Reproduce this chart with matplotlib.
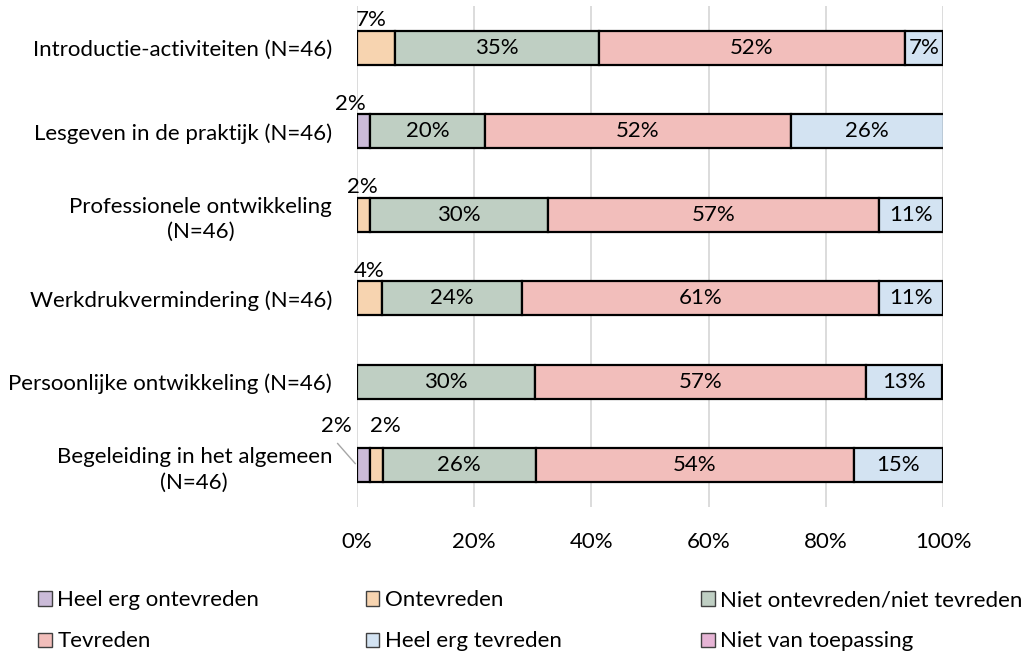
import matplotlib
matplotlib.use("Agg")
import matplotlib.pyplot as plt
from matplotlib.patches import Patch
import numpy as np

plt.rcParams['font.family'] = ['Lato', 'DejaVu Sans']

#categories top to bottom
categories = ['Introductie-activiteiten (N=46)',
              'Lesgeven in de praktijk (N=46)',
              'Professionele ontwikkeling\n(N=46)',
              'Werkdrukvermindering (N=46)',
              'Persoonlijke ontwikkeling (N=46)',
              'Begeleiding in het algemeen\n(N=46)']

series_names = ['Heel erg ontevreden', 'Ontevreden', 'Niet ontevreden/niet tevreden',
                'Tevreden', 'Heel erg tevreden', 'Niet van toepassing']

#percentages per series, one value per category
heel_erg_ontevreden = [0.0, 2.2, 0.0, 0.0, 0.0, 2.2]
ontevreden = [6.5, 0.0, 2.2, 4.3, 0.0, 2.2]
neutraal = [34.8, 19.6, 30.4, 23.9, 30.4, 26.1]
tevreden = [52.2, 52.2, 56.5, 60.9, 56.5, 54.3]
heel_erg_tevreden = [6.5, 26.1, 10.9, 10.9, 13.0, 15.2]
niet_van_toepassing = [0.0, 0.0, 0.0, 0.0, 0.0, 0.0]

colors = ['#CBBBD8', '#F7D4B0', '#BFCFC3', '#F2BEBB', '#D3E3F2', '#E6B4D5']

data = [heel_erg_ontevreden, ontevreden, neutraal, tevreden, heel_erg_tevreden, niet_van_toepassing]

#offsets for the small labels that sit above the bar (x in %, y in rows)
small_label_pos = {(0, 1): (-0.9, -0.33), (1, 0): (-2.3, -0.33), (2, 1): (-0.2, -0.33),
                   (3, 1): (0.0, -0.33), (5, 0): (-4.7, -0.47), (5, 1): (1.6, -0.47)}

fig = plt.figure(figsize=(10.36, 6.53), dpi=100)
ax = fig.add_axes([0.3446, 0.2236, 0.5656, 0.7672])

y = np.arange(len(categories))
left = np.zeros(len(categories))
fs = 16
for s, vals in enumerate(data):
    vals = np.array(vals)
    for i in range(len(categories)):
        if vals[i] <= 0:
            continue
        ax.barh(y[i], vals[i], left=left[i], height=0.41, color=colors[s],
                edgecolor='black', linewidth=1.6, zorder=3)
        label = '%d%%' % int(vals[i] + 0.5)
        cx = left[i] + vals[i] / 2
        if s < 2:
            dx, dy = small_label_pos.get((i, s), (0, -0.33))
            ax.text(cx + dx, y[i] + dy, label, ha='center', va='center', fontsize=fs, zorder=4)
            if (i, s) == (5, 0):
                #leader line back to the segment
                ax.plot([cx - 4.4, cx - 1.4], [y[i] - 0.26, y[i] - 0.02], color='#A6A6A6',
                        linewidth=1, zorder=4, clip_on=False)
        else:
            ax.text(cx, y[i], label, ha='center', va='center', fontsize=fs, zorder=4)
    left += vals

ax.set_ylim(len(categories) - 0.5, -0.5)
ax.set_xlim(0, 100)
ax.set_xticks(np.arange(0, 101, 20))
ax.set_xticklabels(['%d%%' % v for v in np.arange(0, 101, 20)], fontsize=fs)
ax.set_yticks(y)
ax.set_yticklabels(categories, fontsize=fs, multialignment='center', linespacing=1.35)
ax.tick_params(length=0, pad=18)
ax.tick_params(axis='x', pad=18)
ax.xaxis.grid(True, color='#D9D9D9', linewidth=1.3, zorder=0)
ax.set_axisbelow(True)
for sp in ax.spines.values():
    sp.set_visible(False)

#legend: three columns of two entries
handles = [Patch(facecolor=c, edgecolor='#404040', linewidth=1) for c in colors]
col_x = [0.037, 0.353, 0.677]
for c in range(3):
    idx = [c, c + 3]
    leg = fig.legend([handles[k] for k in idx], [series_names[k] for k in idx],
                     loc='upper left', bbox_to_anchor=(col_x[c], 0.096), frameon=False,
                     fontsize=fs, handlelength=0.6, handleheight=0.6, handletextpad=0.25,
                     labelspacing=0.95, borderaxespad=0, borderpad=0)

fig.savefig('out.png', dpi=100)
